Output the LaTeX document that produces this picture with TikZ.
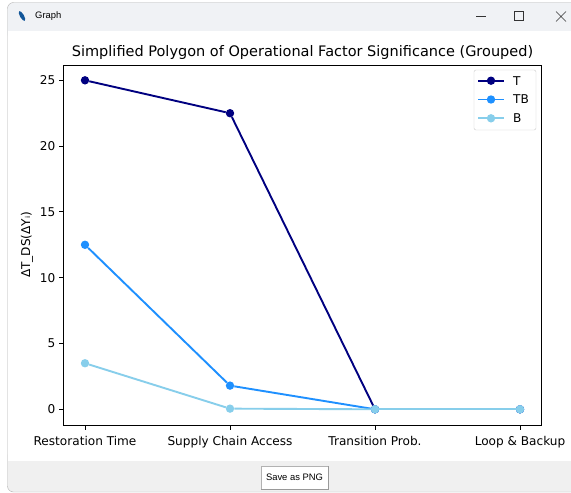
\documentclass[tikz,border=0pt]{standalone}
\usepackage{fontspec}
\setmainfont{DejaVu Sans}
\newfontfamily\winfont{Liberation Sans}
\definecolor{tcol}{RGB}{0,0,128}
\definecolor{tbcol}{RGB}{30,144,255}
\definecolor{bcol}{RGB}{135,206,235}
\definecolor{barcol}{RGB}{240,242,245}
\definecolor{panelcol}{RGB}{240,240,240}
\tikzset{
  marker/.style={circle, inner sep=0pt, minimum size=8.4pt},
  series/.style={draw, line width=1.9pt},
  ticklab/.style={inner sep=0pt, font=\fontsize{12.1}{14}\selectfont},
  winlab/.style={inner sep=0pt, font=\winfont\fontsize{9.4}{11}\selectfont}
}
\begin{document}
\begin{tikzpicture}[x=1pt,y=-1pt]
\useasboundingbox (0,0) rectangle (571,493);
\fill[white] (0,0) rectangle (571,493);
\fill[barcol, rounded corners=6pt] (7.5,2.5) rectangle (590,40);
\fill[panelcol, rounded corners=6pt] (7.5,450) rectangle (590,492);
\fill[white] (7.5,31) rectangle (571,461);
\draw[gray!60, rounded corners=6pt] (590,2.5) -- (7.5,2.5) -- (7.5,492) -- (590,492);
\fill[tbcol!60!black, rotate around={-60:(22,16)}] (22,16) ellipse (5.5pt and 2pt);
\node[winlab, anchor=west] (apptitle) at (35,16) {Graph};
\draw[black!80] (476,16.5) -- (486,16.5);
\draw[black!80] (514.5,11.5) rectangle (523.5,20.5);
\draw[black!80] (556,11.5) -- (566,21.5) (566,11.5) -- (556,21.5);
\node[draw=gray!60, fill=white, minimum width=67pt, minimum height=23pt, inner sep=0pt, winlab] (savebtn) at (294.5,477.5) {Save as PNG};
\draw[gray!80] (savebtn.south west) -- (savebtn.south east) -- (savebtn.north east);
\node[anchor=base, inner sep=0pt, font=\fontsize{14.5}{17}\selectfont] (title) at (302.5,56) {Simplified Polygon of Operational Factor Significance (Grouped)};
\draw[line width=0.9pt] (63.5,65) rectangle (541,425.5);
\foreach \v in {0,5,...,25} {
  \draw[line width=0.9pt] (59.3,{409.3-13.16*\v}) -- (63.5,{409.3-13.16*\v});
  \node[ticklab, anchor=east] (ytick\v) at (55.5,{409.3-13.16*\v}) {\v};
}
\foreach \i/\lab in {0/Restoration Time,1/Supply Chain Access,2/Transition Prob.,3/Loop \& Backup} {
  \draw[line width=0.9pt] ({85+145*\i},425.5) -- ({85+145*\i},429.7);
  \node[ticklab, anchor=base] (xtick\i) at ({85+145*\i},445) {\lab};
}
\node[ticklab, rotate=90] (ylabel) at (27,245) {ΔT\_DS(ΔYᵢ)};
\begin{scope}[shift={(85,409.3)}, x=145pt, y=13.16pt]
\begin{scope}[every node/.style={marker, fill=tcol}]
\node (t1) at (0,25) {};
\node (t2) at (1,22.5) {};
\node (t3) at (2,0) {};
\node (t4) at (3,0) {};
\end{scope}
\path[tcol] (t1) edge[series] (t2) (t2) edge[series] (t3) (t3) edge[series] (t4);
\begin{scope}[every node/.style={marker, fill=tbcol}]
\node (tb1) at (0,12.5) {};
\node (tb2) at (1,1.8) {};
\node (tb3) at (2,0) {};
\node (tb4) at (3,0) {};
\end{scope}
\path[tbcol] (tb1) edge[series] (tb2) (tb2) edge[series] (tb3) (tb3) edge[series] (tb4);
\begin{scope}[every node/.style={marker, fill=bcol}]
\node (b1) at (0,3.5) {};
\node (b2) at (1,0.05) {};
\node (b3) at (2,0) {};
\node (b4) at (3,0) {};
\end{scope}
\path[bcol] (b1) edge[series] (b2) (b2) edge[series] (b3) (b3) edge[series] (b4);
\end{scope}
\node[draw=black!20, fill=white, rounded corners=2pt, minimum width=62pt, minimum height=60pt, inner sep=0pt] (legend) at (505,100) {};
\foreach \n/\c/\y in {T/tcol/80.7,TB/tbcol/99.5,B/bcol/118.3} {
  \coordinate (l\n a) at (478,\y);
  \coordinate (l\n b) at (504,\y);
  \draw[line width=1.9pt, \c] (l\n a) -- (l\n b);
  \node[marker, fill=\c] (lm\n) at (491,\y) {};
  \node[ticklab, anchor=west] (lt\n) at (513,\y) {\n};
}
\end{tikzpicture}
\end{document}
